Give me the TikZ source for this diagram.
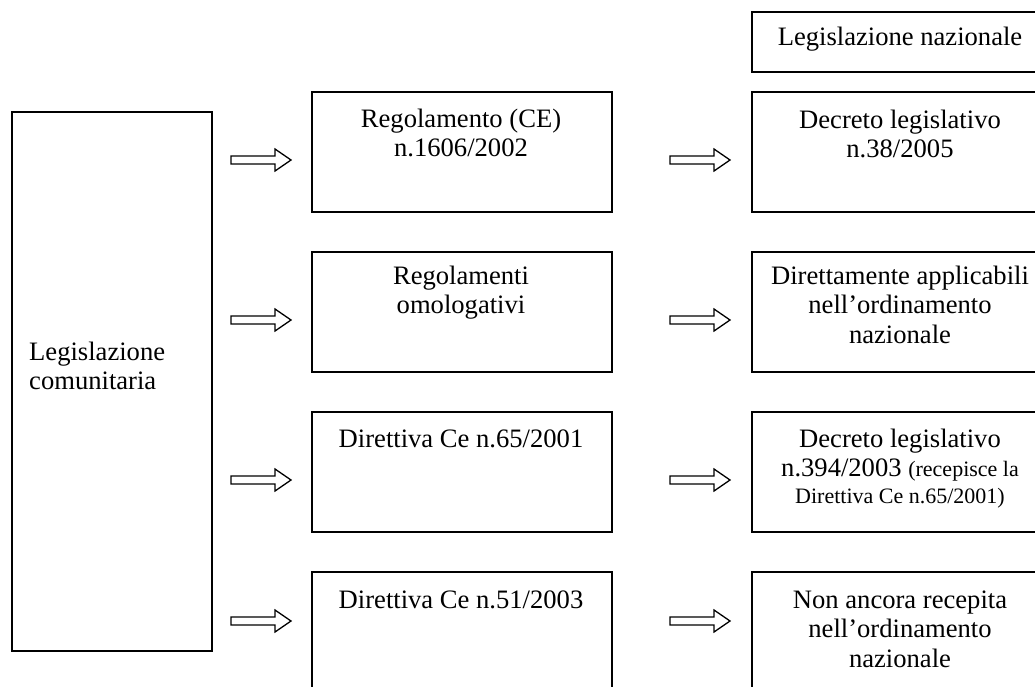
\documentclass[tikz,border=0pt]{standalone}
\usepackage{fontspec}
\setmainfont{Liberation Serif}
\newcommand\clines[1]{\vtop{\halign{\hfil##\hfil\cr#1\crcr}}}
\newcommand\llines[1]{\vtop{\halign{##\hfil\cr#1\crcr}}}
\newcommand\smalltxt{\fontsize{22}{26}\selectfont}
\begin{document}
\begin{tikzpicture}[x=1pt,y=-1pt,
  box/.style={draw=black, line width=1.5pt, rectangle, anchor=north west,
    inner sep=0pt, minimum width=300pt, minimum height=120pt},
  txt/.style={font=\fontsize{26.6}{29.5}\selectfont, inner sep=0pt, anchor=base},
  arrowline/.style={draw=black, line width=1.3pt, line join=miter},
  blockarrow/.pic={\draw[arrowline] (0,-4) -- (44,-4) -- (44,-11) -- (60,0)
      -- (44,11) -- (44,4) -- (0,4) -- cycle;}]
\useasboundingbox (0,0) rectangle (1035,686);
\fill[white] (0,0) rectangle (1035,686);
\clip (0,0) rectangle (1035,686);

% left box
\node[box, minimum width=200pt, minimum height=539pt] (L) at (11,111) {};
\node[txt, anchor=base west] (Lt) at (29,360) {\llines{Legislazione\cr comunitaria}};

% middle column
\node[box] (M1) at (311,91) {};
\node[box] (M2) at (311,251) {};
\node[box] (M3) at (311,411) {};
\node[box] (M4) at (311,571) {};
\node[txt] (M1t) at (461,127) {\clines{Regolamento (CE)\cr n.1606/2002}};
\node[txt] (M2t) at (461,284) {\clines{Regolamenti\cr omologativi}};
\node[txt] (M3t) at (461,447) {\clines{Direttiva Ce n.65/2001}};
\node[txt] (M4t) at (461,608) {\clines{Direttiva Ce n.51/2003}};

% right column
\node[box, minimum height=60pt] (H) at (751,11) {};
\node[txt] (Ht) at (900,45) {Legislazione nazionale};
\node[box] (R1) at (751,91) {};
\node[box] (R2) at (751,251) {};
\node[box] (R3) at (751,411) {};
\node[box] (R4) at (751,571) {};
\node[txt] (R1t) at (900,128) {\clines{Decreto legislativo\cr n.38/2005}};
\node[txt] (R2t) at (900,284) {\clines{Direttamente applicabili\cr nell’ordinamento\cr nazionale}};
\node[txt] (R3t) at (900,447) {\clines{Decreto legislativo\cr n.394/2003 {\smalltxt(recepisce la}\cr\noalign{\vskip-3pt} {\smalltxt Direttiva Ce n.65/2001)}}};
\node[txt] (R4t) at (900,608) {\clines{Non ancora recepita\cr nell’ordinamento\cr nazionale}};

% block arrows
\pic (A1) at (231,160) {blockarrow};
\pic (A2) at (231,320) {blockarrow};
\pic (A3) at (231,480) {blockarrow};
\pic (A4) at (231,621) {blockarrow};
\pic (B1) at (670,160) {blockarrow};
\pic (B2) at (670,320) {blockarrow};
\pic (B3) at (670,480) {blockarrow};
\pic (B4) at (670,621) {blockarrow};
\end{tikzpicture}
\end{document}
